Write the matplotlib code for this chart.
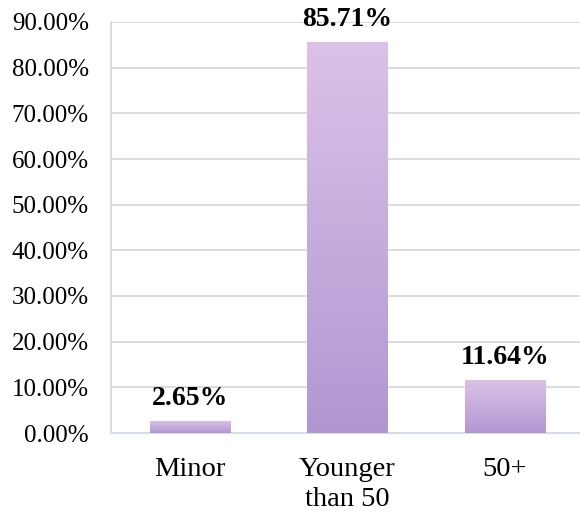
import matplotlib.pyplot as plt
import numpy as np
from matplotlib.colors import LinearSegmentedColormap
from matplotlib.ticker import FuncFormatter

categories = ['Minor', 'Younger\nthan 50', '50+']
values = [2.65, 85.71, 11.64]
labels = ['2.65%', '85.71%', '11.64%']

plt.rcParams['font.family'] = ['Liberation Serif', 'DejaVu Serif']

fig = plt.figure(figsize=(5.8, 5.16), dpi=100)
ax = fig.add_axes([111 / 580, 83 / 516, 472.5 / 580, 411 / 516])

cmap = LinearSegmentedColormap.from_list('grad', ['#b197d2', '#dcc2e8'])
grad = np.linspace(0, 1, 256).reshape(-1, 1)
width = 0.51
x = np.arange(len(categories))
bars = ax.bar(x, values, width=width, color='none', edgecolor='none', zorder=3)
for b in bars:
    x0, y0 = b.get_x(), b.get_y()
    im = ax.imshow(grad, cmap=cmap, origin='lower', aspect='auto',
                   extent=[x0, x0 + b.get_width(), y0, y0 + b.get_height()],
                   zorder=3)
    im.set_clip_path(b)

for xi, v, lab in zip(x, values, labels):
    ax.annotate(lab, (xi, v), xytext=(0, 7), textcoords='offset points',
                ha='center', va='bottom', fontsize=20, fontweight='bold',
                clip_on=False, zorder=4)

ax.set_xlim(-0.5, 2.5)
ax.set_ylim(0, 90)
ax.set_yticks(np.arange(0, 91, 10))
ax.yaxis.set_major_formatter(FuncFormatter(lambda v, p: f'{v:.2f}%'))
ax.set_xticks(x)
ax.set_xticklabels(categories, fontsize=20.5, linespacing=1.3)
ax.tick_params(axis='y', labelsize=18, length=0, pad=16)
ax.tick_params(axis='x', length=0, pad=17)
ax.grid(axis='y', color='#d9d9d9', linewidth=1.3, zorder=0)
for s in ['top', 'right']:
    ax.spines[s].set_visible(False)
ax.spines['left'].set_color('#d9d9d9')
ax.spines['left'].set_linewidth(1.3)
ax.spines['bottom'].set_color('#d6dde8')
ax.spines['bottom'].set_linewidth(1.5)

fig.savefig('out.png', dpi=100)
